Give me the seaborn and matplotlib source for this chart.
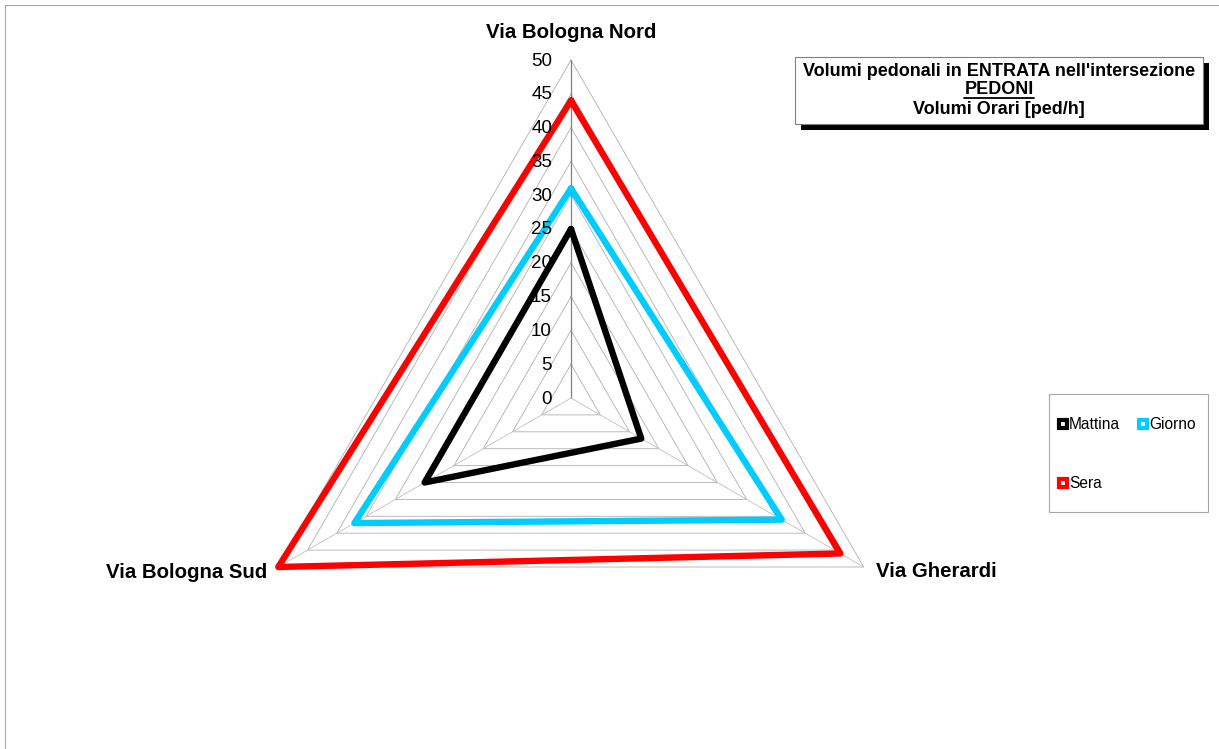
import numpy as np
import pandas as pd
import seaborn as sns
import matplotlib.pyplot as plt
from matplotlib.lines import Line2D
from matplotlib.patches import Rectangle

categories = ["Via Bologna Nord", "Via Gherardi", "Via Bologna Sud"]
series = ["Mattina", "Giorno", "Sera"]
mattina = [25, 12, 25]
giorno = [31, 36, 37]
sera = [44, 46, 50]
r_ticks = [0, 5, 10, 15, 20, 25, 30, 35, 40, 45, 50]
title_lines = ["Volumi pedonali in ENTRATA nell'intersezione", "PEDONI", "Volumi Orari [ped/h]"]

colors = {"Mattina": "#000000", "Giorno": "#00CCFF", "Sera": "#FF0000"}

sns.set_theme(style="white")
plt.rcParams["font.family"] = ["Liberation Sans", "DejaVu Sans"]
plt.rcParams["text.color"] = "black"

W, H = 1219, 749
fig = plt.figure(figsize=(W / 100, H / 100), dpi=100)
fig.patch.set_facecolor("white")

# chart area border (only top and left visible)
fig.add_artist(Rectangle((5 / W, -0.1), 1.1, 1.1 - 5 / H, fill=False,
                         edgecolor="#a6a6a6", lw=0.8, transform=fig.transFigure))

cx, cy, R = 571, 398, 338
ax = fig.add_axes([(cx - R) / W, (H - cy - R) / H, 2 * R / W, 2 * R / H], projection="polar")
ax.set_theta_offset(np.pi / 2)
ax.set_theta_direction(-1)
ax.patch.set_alpha(0)

angles = np.linspace(0, 2 * np.pi, len(categories), endpoint=False)
closed = np.append(angles, 2 * np.pi)

# triangular grid
for r in r_ticks[1:]:
    ax.plot(closed, [r] * len(closed), color="#b0b0b0", lw=0.6, clip_on=False, zorder=1)
for i, a in enumerate(angles):
    ax.plot([a, a], [0, r_ticks[-1]], color="#808080" if i == 0 else "#c0c0c0",
            lw=0.9 if i == 0 else 0.6, clip_on=False, zorder=1)

values = {"Mattina": mattina, "Giorno": giorno, "Sera": sera}
rows = []
for s in series:
    v = values[s] + values[s][:1]
    for t, val in zip(closed, v):
        rows.append({"theta": t, "value": val, "series": s})
df = pd.DataFrame(rows)

sns.lineplot(data=df, x="theta", y="value", hue="series", hue_order=series,
             palette=colors, sort=False, estimator=None, linewidth=4.6,
             legend=False, ax=ax, clip_on=False, zorder=3)

ax.set_ylim(0, 50)
ax.grid(False)
ax.spines["polar"].set_visible(False)
ax.set_xticks([])
ax.set_yticks([])
ax.set_xlabel("")
ax.set_ylabel("")

for r in r_ticks:
    ax.annotate(str(r), xy=(0, r), xytext=(-19, -1), textcoords="offset pixels",
                ha="right", va="center", fontsize=13.5, color="black")

label_offsets = [((0, 27), "center"), ((12, -5), "left"), ((-11, -5), "right")]
for a, name, (off, ha) in zip(angles, categories, label_offsets):
    ax.annotate(name, xy=(a, 50), xytext=off, textcoords="offset pixels",
                ha=ha, va="center", fontsize=14.7, fontweight="bold", color="black",
                annotation_clip=False)

# title box with shadow
bx0, bx1, by0, by1 = 795, 1203, 57, 124
fig.add_artist(Rectangle(((bx0 + 6) / W, 1 - (by1 + 6) / H), (bx1 - bx0) / W, (by1 - by0) / H,
                         facecolor="black", edgecolor="none", transform=fig.transFigure))
fig.add_artist(Rectangle((bx0 / W, 1 - by1 / H), (bx1 - bx0) / W, (by1 - by0) / H,
                         facecolor="white", edgecolor="#808080", lw=0.8, transform=fig.transFigure))
tx = (bx0 + bx1) / 2
ty = [71, 90, 110]
texts = []
for line, y in zip(title_lines, ty):
    texts.append(fig.text(tx / W, 1 - y / H, line, ha="center", va="center",
                          fontsize=13, fontweight="bold", color="black"))

fig.canvas.draw()
bb = texts[1].get_window_extent()
inv = fig.transFigure.inverted()
(x0, y0), (x1, _) = inv.transform([(bb.x0, bb.y0 + 1), (bb.x1, bb.y0 + 1)])
fig.add_artist(Line2D([x0, x1], [y0, y0], color="black", lw=1.3, transform=fig.transFigure))

# legend (frame drawn separately)
lx0, lx1, ly0, ly1 = 1049, 1208, 394, 512
fig.add_artist(Rectangle((lx0 / W, 1 - ly1 / H), (lx1 - lx0) / W, (ly1 - ly0) / H,
                         facecolor="white", edgecolor="#a6a6a6", lw=0.8, transform=fig.transFigure))
handles = {s: Line2D([], [], linestyle="none", marker="s", markersize=5.4,
                     markerfacecolor="white", markeredgecolor=colors[s], markeredgewidth=3.0)
           for s in series}
order = ["Mattina", "Sera", "Giorno"]
leg = fig.legend([handles[s] for s in order], order, loc="upper left",
                 bbox_to_anchor=(1058 / W, 1 - 417 / H), ncol=2, frameon=False,
                 fontsize=11.2, handlelength=0.6, handletextpad=0.1, columnspacing=1.15,
                 labelspacing=2.85, borderpad=0.0, borderaxespad=0.0)
for t in leg.get_texts():
    t.set_color("black")

fig.savefig("out.png", dpi=100)
